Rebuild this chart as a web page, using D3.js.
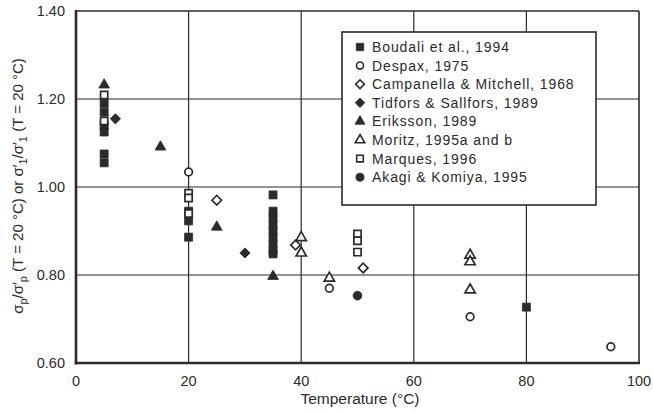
<!DOCTYPE html>
<html>
<head>
<meta charset="utf-8">
<script src="https://cdn.jsdelivr.net/npm/d3@7"></script>
<style>
  html, body { margin: 0; padding: 0; background: #ffffff; }
  svg { display: block; }
  text { font-family: "Liberation Sans", Arial, Helvetica, sans-serif; fill: #2b2b2b; }
</style>
</head>
<body>
<svg id="chart" width="653" height="413"></svg>
<script>
// Normalised strength vs. temperature, several studies; each point is [temperature °C, ratio]
const boudali   = [[5, 1.19], [5, 1.17], [5, 1.14], [5, 1.125], [5, 1.075], [5, 1.055],
                   [20, 0.945], [20, 0.923], [20, 0.886],
                   [35, 0.982], [35, 0.945], [35, 0.93], [35, 0.915], [35, 0.90], [35, 0.885],
                   [35, 0.87], [35, 0.855], [35, 0.848],
                   [80, 0.727]];
const despax    = [[20, 1.034], [45, 0.77], [70, 0.705], [95, 0.637]];
const campanella = [[25, 0.97], [39, 0.868], [51, 0.816]];
const tidfors   = [[7, 1.155], [30, 0.85]];
const eriksson  = [[5, 1.232], [15, 1.091], [25, 0.909], [35, 0.797]];
const moritz    = [[40, 0.885], [40, 0.85], [45, 0.793], [70, 0.845], [70, 0.83], [70, 0.766]];
const marques   = [[5, 1.209], [5, 1.15], [20, 0.986], [20, 0.975], [20, 0.94],
                   [50, 0.893], [50, 0.878], [50, 0.852]];
const akagi     = [[50, 0.753]];

const legendLabels = ["Boudali et al., 1994", "Despax, 1975", "Campanella & Mitchell, 1968",
                      "Tidfors & Sallfors, 1989", "Eriksson, 1989", "Moritz, 1995a and b",
                      "Marques, 1996", "Akagi & Komiya, 1995"];
const xTicks = [0, 20, 40, 60, 80, 100];
const yTicks = [0.60, 0.80, 1.00, 1.20, 1.40];

const ink = "#2b2b2b";
const svg = d3.select("#chart");

const x = d3.scaleLinear().domain([0, 100]).range([76, 639]);
const y = d3.scaleLinear().domain([0.6, 1.4]).range([363, 11]);

// marker styles: shape, filled?, size (area), rotation
const styles = [
  { data: boudali,    type: d3.symbolSquare,   fill: true,  size: 64, rot: 0 },
  { data: despax,     type: d3.symbolCircle,   fill: false, size: 46, rot: 0 },
  { data: campanella, type: d3.symbolSquare,   fill: false, size: 46, rot: 45 },
  { data: tidfors,    type: d3.symbolSquare,   fill: true,  size: 52, rot: 45 },
  { data: eriksson,   type: d3.symbolTriangle, fill: true,  size: 50, rot: 0 },
  { data: moritz,     type: d3.symbolTriangle, fill: false, size: 46, rot: 0 },
  { data: marques,    type: d3.symbolSquare,   fill: false, size: 52, rot: 0 },
  { data: akagi,      type: d3.symbolCircle,   fill: true,  size: 60, rot: 0 }
];

// grid lines
const grid = svg.append("g");
grid.selectAll("line.v").data(xTicks.slice(1, -1)).join("line")
  .attr("x1", d => x(d)).attr("x2", d => x(d))
  .attr("y1", y(1.4)).attr("y2", y(0.6))
  .attr("stroke", ink).attr("stroke-width", 1.2);
grid.selectAll("line.h").data(yTicks.slice(1, -1)).join("line")
  .attr("x1", x(0)).attr("x2", x(100))
  .attr("y1", d => y(d)).attr("y2", d => y(d))
  .attr("stroke", ink).attr("stroke-width", 1.2);

// frame: heavier left and bottom axes
svg.append("line").attr("x1", x(0)).attr("x2", x(100)).attr("y1", y(1.4)).attr("y2", y(1.4))
  .attr("stroke", ink).attr("stroke-width", 1.6);
svg.append("line").attr("x1", x(100)).attr("x2", x(100)).attr("y1", y(1.4)).attr("y2", y(0.6))
  .attr("stroke", ink).attr("stroke-width", 1.6);
svg.append("line").attr("x1", x(0)).attr("x2", x(0)).attr("y1", y(1.4) - 1).attr("y2", y(0.6) + 1.5)
  .attr("stroke", ink).attr("stroke-width", 2.6);
svg.append("line").attr("x1", x(0) - 1.3).attr("x2", x(100) + 1).attr("y1", y(0.6)).attr("y2", y(0.6))
  .attr("stroke", ink).attr("stroke-width", 2.6);

// tick labels
svg.append("g").selectAll("text").data(xTicks).join("text")
  .attr("x", d => x(d)).attr("y", 386)
  .attr("text-anchor", "middle").attr("font-size", 14.5)
  .text(d => d);
svg.append("g").selectAll("text").data(yTicks).join("text")
  .attr("x", 65).attr("y", d => y(d) + 5)
  .attr("text-anchor", "end").attr("font-size", 14.5)
  .text(d => d.toFixed(2));

// axis titles
svg.append("text").attr("x", 360).attr("y", 404)
  .attr("text-anchor", "middle").attr("font-size", 15.5)
  .text("Temperature (°C)");

const yt = svg.append("text")
  .attr("transform", "translate(23,186) rotate(-90)")
  .attr("text-anchor", "middle").attr("font-size", 15);
const yParts = [
  ["σ", 0], ["p", 1], ["/σ′", 0], ["p", 1], [" (T = 20 °C) or σ′", 0], ["1", 1],
  ["/σ′", 0], ["1", 1], [" (T = 20 °C)", 0]
];
let prevSub = 0;
yParts.forEach(([t, sub]) => {
  const dy = sub === prevSub ? 0 : (sub ? 4 : -4);
  yt.append("tspan").attr("dy", dy).attr("font-size", sub ? 11 : 15).text(t);
  prevSub = sub;
});

// data points
const pts = svg.append("g");
styles.forEach(s => {
  pts.append("g").selectAll("path").data(s.data).join("path")
    .attr("d", d3.symbol().type(s.type).size(s.size))
    .attr("transform", d => `translate(${x(d[0])},${y(d[1])}) rotate(${s.rot})`)
    .attr("fill", s.fill ? ink : "#ffffff")
    .attr("stroke", ink)
    .attr("stroke-width", s.fill ? 0.8 : 1.7);
});

// legend
const lg = svg.append("g");
lg.append("rect").attr("x", 342).attr("y", 32).attr("width", 254).attr("height", 173)
  .attr("fill", "#ffffff").attr("stroke", ink).attr("stroke-width", 1.6);
const rowY = i => 47 + i * 18.6;
styles.forEach((s, i) => {
  lg.append("path")
    .attr("d", d3.symbol().type(s.type).size(s.size * 0.85))
    .attr("transform", `translate(360,${rowY(i)}) rotate(${s.rot})`)
    .attr("fill", s.fill ? ink : "#ffffff")
    .attr("stroke", ink)
    .attr("stroke-width", s.fill ? 0.8 : 1.6);
  lg.append("text")
    .attr("x", 372).attr("y", rowY(i) + 5)
    .attr("font-size", 14).attr("letter-spacing", 0.9)
    .text(legendLabels[i]);
});
</script>
</body>
</html>
